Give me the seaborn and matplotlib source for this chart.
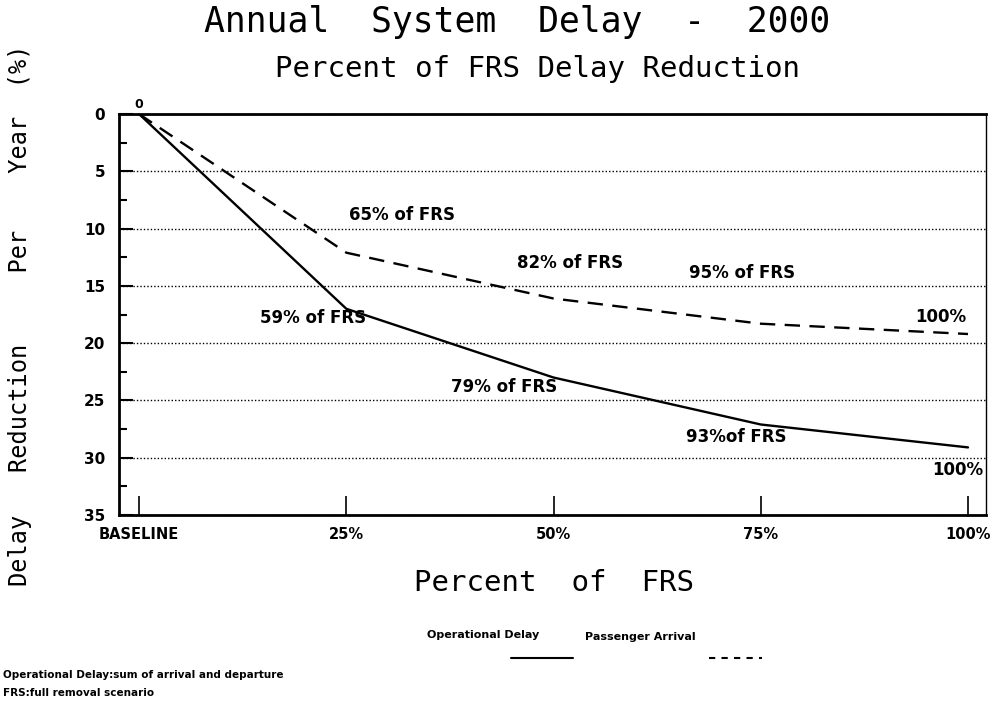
import matplotlib.pyplot as plt
import seaborn as sns
import pandas as pd
from matplotlib.lines import Line2D
from matplotlib.ticker import MultipleLocator

# data (delay reduction, % per year)
frs_levels = ['BASELINE', '25%', '50%', '75%', '100%']
operational_delay = [0, 17.0, 23.0, 27.1, 29.1]
passenger_arrival = [0, 12.1, 16.1, 18.3, 19.2]

op_notes = ['59% of FRS', '79% of FRS', '93%of FRS', '100%']
pa_notes = ['65% of FRS', '82% of FRS', '95% of FRS', '100%']

if __name__ == '__main__':
    steps = list(range(len(frs_levels)))
    df = pd.DataFrame({
        'step': steps * 2,
        'reduction': operational_delay + passenger_arrival,
        'series': ['Operational Delay'] * len(steps) + ['Passenger Arrival'] * len(steps),
    })

    sns.set_style('white')
    plt.rcParams['font.family'] = ['DejaVu Sans']
    plt.rcParams['text.color'] = 'black'
    plt.rcParams['xtick.color'] = 'black'
    plt.rcParams['ytick.color'] = 'black'

    fig = plt.figure(figsize=(9.92, 7.07), dpi=100)
    ax = fig.add_axes([0.12, 0.2716, 0.874, 0.567])

    sns.lineplot(data=df, x='step', y='reduction', style='series',
                 dashes={'Operational Delay': '', 'Passenger Arrival': (6.5, 4)},
                 color='black', linewidth=1.7, legend=False, ax=ax)

    ax.set_xlim(-0.097, 4.087)
    ax.set_ylim(35, 0)
    ax.set_xticks(steps)
    ax.set_xticklabels(frs_levels, fontweight='bold', fontsize=10.5)
    ax.yaxis.set_major_locator(MultipleLocator(5))
    ax.yaxis.set_minor_locator(MultipleLocator(2.5))
    for lab in ax.get_yticklabels():
        lab.set_fontweight('bold')
        lab.set_fontsize(11)
    ax.tick_params(axis='y', which='both', left=True, direction='in', width=1.5)
    ax.tick_params(axis='y', which='major', length=10, pad=10)
    ax.tick_params(axis='y', which='minor', length=6)
    ax.tick_params(axis='x', bottom=True, direction='in', length=14, width=1.2, pad=9)
    ax.set_xlabel('')
    ax.set_ylabel('')
    ax.yaxis.grid(True, which='major', linestyle=(0, (1, 1.5)), color='black', linewidth=1)

    for side, w in {'left': 2, 'bottom': 2, 'top': 2, 'right': 1}.items():
        ax.spines[side].set_color('black')
        ax.spines[side].set_linewidth(w)

    note_style = dict(fontsize=12, fontweight='bold', ha='center', va='center')
    ax.text(0.0, -0.8, '0', fontsize=9, fontweight='bold', ha='center', va='center')
    op_pos = [(0.84, 17.8), (1.76, 23.8), (2.88, 28.2), (3.95, 31.1)]
    pa_pos = [(1.27, 8.8), (2.08, 13.0), (2.91, 13.9), (3.87, 17.7)]
    for txt, (x, y) in zip(op_notes, op_pos):
        ax.text(x, y, txt, **note_style)
    for txt, (x, y) in zip(pa_notes, pa_pos):
        ax.text(x, y, txt, **note_style)

    mono = 'DejaVu Sans Mono'
    fig.text(0.521, 0.969, 'Annual  System  Delay  -  2000', ha='center', va='center',
             fontsize=25, family=mono)
    fig.text(0.542, 0.902, 'Percent of FRS Delay Reduction', ha='center', va='center',
             fontsize=21, family=mono)
    fig.text(0.558, 0.175, 'Percent  of  FRS', ha='center', va='center', fontsize=21, family=mono)
    fig.text(0.02, 0.554, 'Delay   Reduction     Per    Year  (%)', rotation=90,
             ha='center', va='center', fontsize=17, family=mono)

    # legend: label above a line sample
    fig.text(0.487, 0.102, 'Operational Delay', ha='center', va='center', fontsize=8, fontweight='bold')
    fig.text(0.645, 0.099, 'Passenger Arrival', ha='center', va='center', fontsize=8, fontweight='bold')
    fig.add_artist(Line2D([0.515, 0.578], [0.069, 0.069], color='black', linewidth=1.5))
    fig.add_artist(Line2D([0.715, 0.768], [0.069, 0.069], color='black', linewidth=1.5,
                          linestyle=(0, (3, 3))))

    fig.text(0.003, 0.045, 'Operational Delay:sum of arrival and departure', ha='left', va='center',
             fontsize=7.5, fontweight='bold')
    fig.text(0.003, 0.020, 'FRS:full removal scenario', ha='left', va='center',
             fontsize=7.5, fontweight='bold')

    fig.savefig('out.png', dpi=100)
